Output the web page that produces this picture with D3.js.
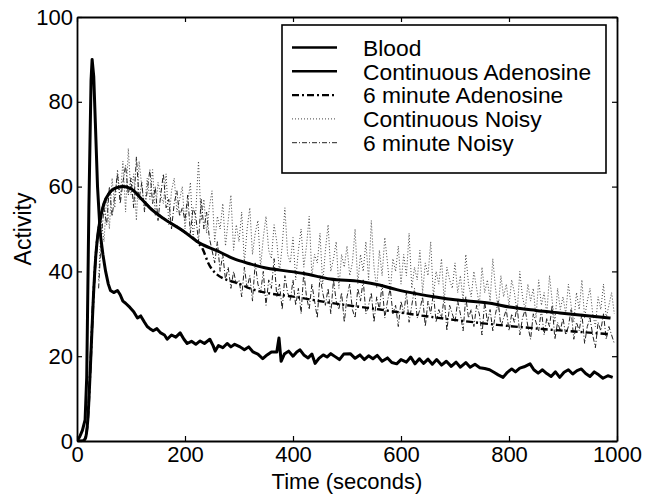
<!DOCTYPE html>
<html>
<head>
<meta charset="utf-8">
<script src="https://cdn.jsdelivr.net/npm/d3@7"></script>
<style>
  body { margin: 0; background: #fff; }
  svg { display: block; }
  text { font-family: "Liberation Sans", Arial, sans-serif; fill: #000; }
</style>
</head>
<body>
<div id="chart"></div>
<script>
const width = 651;
const height = 499;

// --- data ---
const xTicks = [0, 200, 400, 600, 800, 1000];
const yTicks = [0, 20, 40, 60, 80, 100];

const seriesNames = ['Blood', 'Continuous Adenosine', '6 minute Adenosine', 'Continuous Noisy', '6 minute Noisy'];

const bloodTime = [0, 5, 10, 15, 18, 22, 26, 28, 31, 34, 38, 43, 48, 53, 58, 62, 68, 75, 80, 85, 90, 98, 105, 112, 118, 125, 130, 135,
  141, 148, 155, 162, 167, 175, 183, 191, 198, 204, 212, 220, 228, 236, 246, 252, 256, 262, 270, 278, 285, 292, 302, 310, 318, 326,
  335, 344, 352, 360, 370, 374, 378, 384, 392, 400, 407, 413, 420, 428, 435, 441, 448, 456, 463, 470, 478, 486, 494, 506, 515, 524,
  532, 540, 548, 556, 565, 575, 583, 592, 600, 610, 618, 626, 634, 642, 650, 658, 666, 675, 684, 693, 702, 710, 720, 728, 737, 746,
  755, 764, 772, 780, 789, 797, 805, 812, 820, 828, 839, 846, 854, 862, 870, 878, 886, 894, 902, 910, 918, 926, 934, 942, 950, 958,
  966, 974, 983, 992];
const bloodValues = [0, 1, 2.5, 5, 15, 55, 85, 90, 86, 75, 60, 49, 44, 40, 37, 35.5, 35, 35.5, 34.5, 33, 32.5, 31.5, 30.5, 29, 29.5, 28, 27, 26.5,
  26, 26.5, 25.5, 25, 24, 25, 24.5, 25.5, 24, 23, 23.5, 22.8, 23.6, 23, 24, 22.5, 21.2, 22.5, 22, 23, 22.2, 22.8, 22.2, 21.5, 22.2, 21,
  20.5, 19.4, 20.3, 21, 21, 24.3, 18.8, 20.5, 21.2, 20, 21, 21.5, 20.3, 19.6, 20.5, 18.3, 19.5, 20.3, 19.8, 20.6, 19.9, 19.2, 20.5, 20.6, 19.5, 20.3,
  19.2, 20.1, 19.4, 20.2, 18.8, 19.6, 18.5, 18.2, 19.2, 18.6, 19.8, 18.2, 19.4, 18.3, 19.3, 18.1, 19.2, 17.9, 18.8, 17.6, 18.6, 17.4, 18.5, 17.4, 18.1, 17.3,
  17.1, 16.8, 16.2, 15.6, 15, 16.2, 17, 16.3, 17.2, 17.5, 18.2, 16.8, 16, 16.8, 15.9, 15.2, 16.3, 15, 16.2, 16.8, 15.8, 16.6, 17, 15.9, 15.2, 16.3,
  15.6, 14.8, 15.4, 15];

const contAdenoTime = [0, 10, 15, 20, 25, 30, 35, 40, 45, 50, 60, 70, 85, 100, 120, 135, 160, 196, 228, 259, 290, 320, 350, 376, 420,
  469, 524, 560, 592, 630, 667, 700, 765, 801, 850, 894, 940, 988];
const contAdenoValues = [0, 0, 0.5, 5, 18, 33, 44, 50, 53.5, 56, 58.5, 59.6, 60, 59.5, 57, 55, 52.5, 49.6, 46.6, 44.9, 43, 41.8, 40.8, 40.3, 39.5,
  38.2, 37.6, 36.8, 35.7, 34.7, 33.9, 33.3, 32.5, 31.6, 30.8, 30.2, 29.6, 29];

const sixAdenoTime = [0, 10, 15, 20, 25, 30, 35, 40, 45, 50, 60, 70, 85, 100, 120, 135, 160, 196, 222, 233, 243, 259, 302, 320, 413,
  469, 561, 654, 778, 863, 988];
const sixAdenoValues = [0, 0, 0.5, 5, 18, 33, 44, 50, 53.5, 56, 58.5, 59.6, 60, 59.5, 57, 55, 52.5, 49.6, 47, 45.2, 42, 39.3, 37, 36, 33.8,
  32.6, 31, 29.3, 27.4, 26.4, 25.2];

// noisy series: one sample every 5 s starting at 40 s
const noisyStart = 40;
const noisyStep = 5;
const contNoisyValues = [
  38, 52, 47, 58, 50, 62, 55, 64, 57, 66, 54, 69,
  58, 63, 52, 66, 60, 55, 62, 57, 64, 53, 61, 58, 56, 63, 51, 59, 62, 54, 57, 60,
  50, 56, 61, 48, 54, 66, 52, 57, 49, 55, 59, 47, 53, 50, 56, 46, 52, 58, 45, 51,
  47, 54, 42, 50, 55, 44, 49, 52, 41, 48, 53, 45, 43, 51, 47, 40, 46, 55, 44, 42,
  48, 38, 45, 50, 41, 46, 53, 39, 44, 42, 49, 37, 45, 51, 40, 43, 47, 36, 44, 41,
  46, 39, 42, 50, 37, 44, 40, 47, 38, 52, 41, 36, 45, 39, 48, 42, 35, 43, 40, 46,
  37, 44, 39, 49, 36, 41, 38, 45, 35, 42, 39, 47, 34, 40, 37, 43, 33, 41, 38, 36,
  42, 35, 39, 33, 44, 37, 34, 40, 36, 32, 41, 35, 38, 33, 43, 36, 31, 39, 34, 37,
  32, 38, 35, 30, 40, 34, 31, 37, 33, 36, 29, 38, 32, 35, 30, 39, 33, 28, 36, 31,
  34, 30, 37, 32, 28, 35, 31, 38, 29, 33, 36, 30, 27, 34, 31, 37, 29, 32, 35, 30];
const sixNoisyValues = [
  36, 48, 55, 51, 60, 53, 58, 63, 56, 61, 65, 58,
  62, 55, 67, 57, 61, 54, 59, 64, 56, 60, 52, 58, 63, 55, 57, 50, 56, 59, 53, 55,
  52, 58, 49, 55, 53, 47, 57, 50, 54, 48, 45, 42, 47, 40, 44, 38, 41, 36, 40, 37,
  38, 34, 41, 36, 39, 33, 42, 37, 35, 40, 32, 38, 36, 43, 34, 37, 31, 39, 35, 33,
  38, 32, 36, 30, 40, 34, 31, 37, 33, 29, 39, 35, 32, 36, 30, 38, 33, 31, 35, 28,
  34, 37, 31, 29, 36, 33, 38, 30, 32, 35, 28, 34, 31, 37, 29, 33, 36, 30, 32, 27,
  33, 30, 35, 28, 32, 36, 29, 31, 34, 27, 33, 30, 35, 28, 31, 29, 34, 26, 32, 30,
  28, 33, 30, 26, 34, 29, 31, 27, 32, 30, 25, 33, 28, 31, 26, 30, 33, 27, 29, 31,
  26, 30, 28, 32, 25, 29, 31, 27, 24, 30, 28, 26, 31, 25, 29, 27, 32, 24, 28, 26,
  29, 25, 27, 31, 24, 28, 26, 30, 23, 27, 29, 25, 22, 28, 26, 30, 24, 27, 25, 23];

// --- layout ---
const plot = {left: 77, right: 617, top: 17, bottom: 441};
const font = '"Liberation Sans", Arial, sans-serif';

const x = d3.scaleLinear().domain([0, 1000]).range([plot.left, plot.right]);
const y = d3.scaleLinear().domain([0, 100]).range([plot.bottom, plot.top]);

const zip = (ts, vs) => ts.map((t, i) => ({t, v: vs[i]}));
const noisy = vs => vs.map((v, i) => ({t: noisyStart + i * noisyStep, v}));

const series = [
  {name: seriesNames[3], data: noisy(contNoisyValues), width: 1, color: '#444', dash: '1,2', curve: d3.curveLinear},
  {name: seriesNames[4], data: noisy(sixNoisyValues), width: 1, color: '#222', dash: '5,2,1,2', curve: d3.curveLinear},
  {name: seriesNames[2], data: zip(sixAdenoTime, sixAdenoValues), width: 2.4, color: '#000', dash: '7,3,2,3', curve: d3.curveMonotoneX},
  {name: seriesNames[1], data: zip(contAdenoTime, contAdenoValues), width: 3, color: '#000', dash: null, curve: d3.curveMonotoneX},
  {name: seriesNames[0], data: zip(bloodTime, bloodValues), width: 3, color: '#000', dash: null, curve: d3.curveLinear}
];

const svg = d3.select('#chart').append('svg')
  .attr('width', width)
  .attr('height', height);

svg.append('defs').append('clipPath')
  .attr('id', 'clip')
  .append('rect')
  .attr('x', plot.left).attr('y', plot.top)
  .attr('width', plot.right - plot.left)
  .attr('height', plot.bottom - plot.top);

const lines = svg.append('g').attr('clip-path', 'url(#clip)');

series.forEach(s => {
  const line = d3.line()
    .curve(s.curve)
    .x(d => x(d.t))
    .y(d => y(d.v));
  lines.append('path')
    .datum(s.data)
    .attr('d', line)
    .attr('fill', 'none')
    .attr('stroke', s.color)
    .attr('stroke-width', s.width)
    .attr('stroke-dasharray', s.dash)
    .attr('stroke-linejoin', 'round');
});

// axes, MATLAB style: box with inward ticks
const styleAxis = g => {
  g.select('.domain').attr('stroke', '#000').attr('stroke-width', 1.8);
  g.selectAll('.tick line').attr('stroke', '#000').attr('stroke-width', 1.2);
  g.selectAll('text').attr('font-size', 22).attr('font-family', font).attr('fill', '#000');
};

svg.append('g')
  .attr('transform', `translate(0,${plot.bottom})`)
  .call(d3.axisBottom(x).tickValues(xTicks).tickSize(-5).tickSizeOuter(0).tickPadding(5).tickFormat(d3.format('d')))
  .call(styleAxis);

svg.append('g')
  .attr('transform', `translate(${plot.left},0)`)
  .call(d3.axisLeft(y).tickValues(yTicks).tickSize(-5).tickSizeOuter(0).tickPadding(4))
  .call(styleAxis);

svg.append('g')
  .attr('transform', `translate(0,${plot.top})`)
  .call(d3.axisTop(x).tickValues(xTicks).tickSize(-5).tickSizeOuter(0).tickFormat(''))
  .call(styleAxis);

svg.append('g')
  .attr('transform', `translate(${plot.right},0)`)
  .call(d3.axisRight(y).tickValues(yTicks).tickSize(-5).tickSizeOuter(0).tickFormat(''))
  .call(styleAxis);

// axis titles
svg.append('text')
  .attr('x', (plot.left + plot.right) / 2)
  .attr('y', 489)
  .attr('text-anchor', 'middle')
  .attr('font-size', 22)
  .text('Time (seconds)');

svg.append('text')
  .attr('transform', `translate(31,${(plot.top + plot.bottom) / 2}) rotate(-90)`)
  .attr('text-anchor', 'middle')
  .attr('font-size', 23)
  .text('Activity');

// legend
const legend = svg.append('g');
legend.append('rect')
  .attr('x', 282).attr('y', 25)
  .attr('width', 324).attr('height', 148)
  .attr('fill', '#fff')
  .attr('stroke', '#000')
  .attr('stroke-width', 1.6);

const legendRows = [series[4], series[3], series[2], series[0], series[1]];
legendRows.forEach((s, i) => {
  const ry = 47.5 + i * 23.8;
  legend.append('line')
    .attr('x1', 292).attr('x2', 337)
    .attr('y1', ry).attr('y2', ry)
    .attr('stroke', s.color)
    .attr('stroke-width', Math.min(s.width, 2.4))
    .attr('stroke-dasharray', s.dash);
  legend.append('text')
    .attr('x', 363).attr('y', ry)
    .attr('dy', '0.36em')
    .attr('font-size', 22.8)
    .text(s.name);
});
</script>
</body>
</html>
